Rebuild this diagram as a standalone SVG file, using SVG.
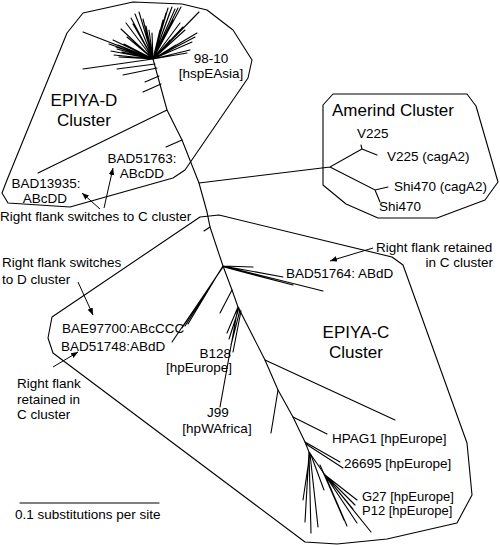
<svg xmlns="http://www.w3.org/2000/svg" width="500" height="545" viewBox="0 0 500 545">
<style>
  text { font-family: "Liberation Sans", Arial, sans-serif; font-size: 13.5px; fill: #000; }
  .big { font-size: 17px; }
  .mid { text-anchor: middle; }
  .end { text-anchor: end; }
  .tight { font-size: 13px; }
  .br { stroke: #000; stroke-width: 1.1; fill: none; stroke-linecap: round; }
  .hull { stroke: #000; stroke-width: 1.1; fill: none; stroke-linejoin: round; }
  .arr { stroke: #000; stroke-width: 1; fill: none; marker-end: url(#ah); }
</style>
<defs>
  <marker id="ah" viewBox="0 0 10 10" refX="10" refY="5" markerWidth="7" markerHeight="7" markerUnits="userSpaceOnUse" orient="auto">
    <path d="M0,1 L10,5 L0,9 z" fill="#000"/>
  </marker>
</defs>
<rect width="500" height="545" fill="#fff"/>

<g id="clusters">
  <polygon id="hull-d" class="hull" points="83,13 133,2 182,4 207,10 233,30 252,60 248,78 185,170 173,178 70,207 8,203 2,193 7,180 67,33"/>
  <polygon id="hull-amerind" class="hull" points="323,105 333,94 467,94 476,106 498,182 485,200 437,218 378,218 346,204 323,185"/>
  <polygon id="hull-c" class="hull" points="200,217 219,215 392,257 403,265 467,443 472,495 457,523 387,539 337,544 305,542 53,353 48,338 52,317"/>
</g>

<g id="connectors">
  <polyline class="br" points="153,59 167,110 182,140 199,183 207,212 210,227 223,266 232,290 238,307 265,360 278,390 293,417 305,442 309,452 325,475"/>
  <g id="star">
    <path class="br" d="M153,59 L83,32 M153,59 L83,69 M153,59 L113,40 M153,59 L109,44 M153,59 L116,47 M153,59 L111,51 M153,59 L114,55 M153,59 L119,57 M153,59 L117,49 M153,59 L124,44 M153,59 L127,37 M153,59 L121,29 M153,59 L126,23 M153,59 L131,18 M153,59 L135,14 M153,59 L139,12 M153,59 L143,19 M153,59 L146,26 M153,59 L149,30 M153,59 L152,33 M153,59 L129,27 M153,59 L122,52 M153,59 L118,45 M153,59 L133,24"/>
    <path class="br" d="M153,59 L160,30 M153,59 L163,20 M153,59 L166,13 M153,59 L168,8 M153,59 L172,7 M153,59 L175,9 M153,59 L178,8 M153,59 L181,7 M153,59 L173,20 M153,59 L180,23 M153,59 L185,30 M153,59 L197,33 M153,59 L195,37 M153,59 L192,42 M153,59 L190,50 M153,59 L187,53 M153,59 L176,45 M153,59 L170,40 M153,59 L199,12 M153,59 L183,27 M153,59 L170,12"/>
    <path class="br" d="M155,64 L117,69 M157,68 L123,75 M159,76 L145,82 M161,84 L143,92"/>
  </g>
  <path class="br" d="M167,110 L38,173 M182,140 L166,147"/>
  <path class="br" d="M199,183 L330,167 L362,149 L361,145 M362,149 L377,155 M330,167 L375,190 L388,187 M375,190 L380,202"/>
  <path class="br" d="M210,227 L204,231"/>
  <path class="br" d="M223,266 L185,326 M222,268 L182,328 M221,269 L188,324 M223,267 L172,342"/>
  <path class="br" d="M223,266 L253,267 M223,266 L283,277 M224,267 L293,285 M223,266 L323,291"/>
  <path class="br" d="M232,290 L220,313"/>
  <path class="br" d="M238,307 L227,333 M239,308 L229,339 M240,310 L231,345 M241,311 L233,352 M238,307 L220,407"/>
  <path class="br" d="M265,360 L395,420"/>
  <path class="br" d="M278,390 L271,433"/>
  <path class="br" d="M293,417 L327,434"/>
  <path class="br" d="M305,442 L340,462 M306,444 L343,468"/>
  <path class="br" d="M309,452 L305,522 M309,452 L311,533 M310,454 L318,527 M311,455 L324,490 M310,453 L303,500"/>
  <path class="br" d="M325,475 L347,526 M325,475 L357,523 M325,475 L371,532 M325,475 L357,500 M325,475 L355,505 M325,475 L353,509 M320,465 L344,520"/>
</g>

<g id="annotations">
  <path class="arr" d="M100,209 L82,193"/>
  <path class="arr" d="M104,208 L113,168"/>
  <path class="arr" d="M78,282 L93,315"/>
  <path class="arr" d="M53,367 L78,352"/>
  <path class="arr" d="M373,248 L330,261"/>
</g>

<g id="cluster-d-label"><text class="big mid" x="84" y="106">EPIYA-D</text><text class="big mid" x="84" y="126">Cluster</text></g>
<g id="cluster-amerind-label"><text class="big" x="332" y="116">Amerind Cluster</text></g>
<g id="cluster-c-label"><text class="big mid" x="356" y="338">EPIYA-C</text><text class="big mid" x="356" y="358">Cluster</text></g>

<g id="node-98-10"><text class="mid" x="211" y="63">98-10</text><text class="mid" x="211" y="78">[hspEAsia]</text></g>
<g id="node-BAD51763"><text class="mid" x="142" y="163">BAD51763:</text><text class="mid" x="142" y="178">ABcDD</text></g>
<g id="node-BAD13935"><text class="mid" x="46" y="188">BAD13935:</text><text class="mid" x="45" y="203">ABcDD</text></g>
<g id="note-switch-c"><text x="0" y="221">Right flank switches to C cluster</text></g>
<g id="node-V225"><text x="357" y="138">V225</text></g>
<g id="node-V225-cagA2"><text x="387" y="161">V225 (cagA2)</text></g>
<g id="node-Shi470-cagA2"><text x="394" y="191">Shi470 (cagA2)</text></g>
<g id="node-Shi470"><text x="379" y="211">Shi470</text></g>
<g id="note-retained-top"><text x="376" y="252">Right flank retained</text><text class="end" x="493" y="267">in C cluster</text></g>
<g id="node-BAD51764"><text x="286" y="278">BAD51764: ABdD</text></g>
<g id="note-switch-d"><text x="2" y="267">Right flank switches</text><text x="2" y="284">to D cluster</text></g>
<g id="node-BAE97700"><text x="62" y="333">BAE97700:ABcCCC</text></g>
<g id="node-BAD51748"><text x="61" y="351">BAD51748:ABdD</text></g>
<g id="note-retained-left"><text x="17" y="388">Right flank</text><text x="17" y="404">retained in</text><text x="17" y="419">C cluster</text></g>
<g id="node-B128"><text class="end" x="231" y="358">B128</text><text class="end" x="232" y="372">[hpEurope]</text></g>
<g id="node-J99"><text class="mid" x="218" y="417">J99</text><text class="mid" x="217" y="433">[hpWAfrica]</text></g>
<g id="node-HPAG1"><text x="332" y="443">HPAG1 [hpEurope]</text></g>
<g id="node-26695"><text x="344" y="468">26695 [hpEurope]</text></g>
<g id="node-G27"><text class="tight" x="362" y="501">G27 [hpEurope]</text></g>
<g id="node-P12"><text class="tight" x="362" y="515">P12 [hpEurope]</text></g>

<g id="scale">
  <line class="br" x1="20" y1="503" x2="159" y2="503"/>
  <text x="15" y="519">0.1 substitutions per site</text>
</g>
</svg>
